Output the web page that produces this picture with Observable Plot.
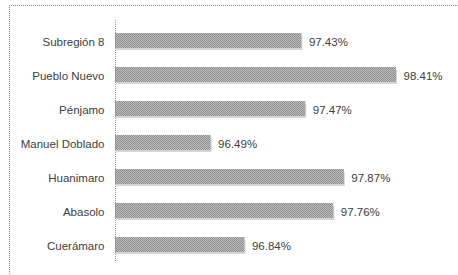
<!DOCTYPE html>
<html>
<head>
<meta charset="utf-8">
<script src="https://cdn.jsdelivr.net/npm/d3@7"></script>
<script src="https://cdn.jsdelivr.net/npm/@observablehq/plot@0.6"></script>
<style>
  html, body { margin: 0; padding: 0; background: #fff; }
  #wrap { position: relative; width: 458px; height: 275px; overflow: hidden; }
  #frame { position: absolute; left: 9px; top: 5px; width: 460px; height: 280px;
           border-top: 1px dotted #888; border-left: 1px dotted #888; pointer-events: none; }
</style>
</head>
<body>
<div id="wrap"><div id="frame"></div></div>
<script>
const categories = ["Subregión 8", "Pueblo Nuevo", "Pénjamo", "Manuel Doblado", "Huanimaro", "Abasolo", "Cuerámaro"];
const values = [97.43, 98.41, 97.47, 96.49, 97.87, 97.76, 96.84];
const labels = ["97.43%", "98.41%", "97.47%", "96.49%", "97.87%", "97.76%", "96.84%"];

const data = categories.map((c, i) => ({category: c, value: values[i], label: labels[i]}));

const chart = Plot.plot({
  width: 458,
  height: 275,
  marginLeft: 115,
  marginRight: 5,
  marginTop: 22,
  marginBottom: 11,
  style: {fontFamily: "Liberation Sans, Arial, sans-serif", fontSize: "11.5px", color: "#404040", background: "transparent"},
  x: {domain: [95.5, 99], axis: null},
  y: {domain: categories, paddingInner: 0.5, paddingOuter: 0.25, label: null, tickSize: 0, tickPadding: 11},
  marks: [
    Plot.barX(data, {x1: 95.5, x2: "value", y: "category", fill: "#d6d6d6", insetTop: 3, dx: 1}),
    Plot.barX(data, {x1: 95.5, x2: "value", y: "category", fill: "url(#hatch)", insetBottom: 2}),
    Plot.ruleX([95.5], {stroke: "#999", strokeDasharray: "1,1", insetTop: -2, insetBottom: 2}),
    Plot.text(data, {x: "value", y: "category", text: "label", textAnchor: "start", dx: 7, fill: "#404040"})
  ]
});

const svg = d3.select(chart);
const defs = svg.insert("defs", ":first-child");
const pat = defs.append("pattern").attr("id", "hatch").attr("width", 2).attr("height", 2)
  .attr("patternUnits", "userSpaceOnUse");
pat.append("rect").attr("width", 2).attr("height", 2).attr("fill", "#bdbdbd");
pat.append("rect").attr("width", 1).attr("height", 1).attr("fill", "#8f8f8f");
pat.append("rect").attr("x", 1).attr("y", 1).attr("width", 1).attr("height", 1).attr("fill", "#8f8f8f");

document.getElementById("wrap").prepend(chart);
chart.style.position = "absolute";
chart.style.left = "0";
chart.style.top = "0";
</script>
</body>
</html>
